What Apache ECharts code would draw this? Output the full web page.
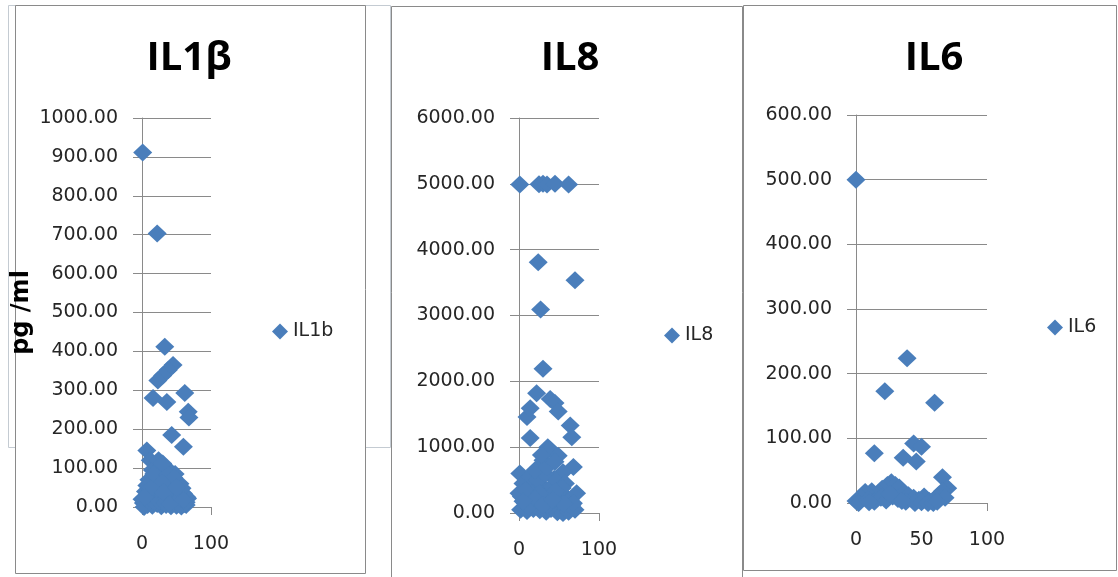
<!DOCTYPE html>
<html><head><meta charset="utf-8">
<script src="https://cdn.jsdelivr.net/npm/echarts@6/dist/echarts.min.js"></script>
<style>html,body{margin:0;padding:0;background:#fff}#c{width:1118px;height:577px}</style>
</head><body><div id="c"></div>
<script>
// ---- data ----
const chartTitles = ['IL1β', 'IL8', 'IL6'];
const seriesNames = ['IL1b', 'IL8', 'IL6'];
const yAxisTitle = 'pg /ml';
const yMaxValues = [1000, 6000, 600];
const yStepValues = [100, 1000, 100];
const xMaxValues = [100, 100, 100];
const xStepValues = [100, 100, 50];

const il1bPoints = [[1,911],[22,703],[33,412],[45,365],[38,352],[30,338],[23,325],[16,280],[36,270],[62,293],[67,245],[68,230],[43,185],[60,155],[7,145],
 [12,120],[20,110],[28,100],[35,95],[42,90],[48,85],[15,95],[25,80],[32,75],[40,70],[50,65],[55,60],[10,70],[18,60],[26,55],[34,50],[44,45],[52,40],[60,35],[65,25],[66,22],
 [5,40],[12,35],[20,30],[30,25],[38,20],[46,15],[54,10],[62,8],[64,5],[2,10],[8,5],[15,3],[22,8],[28,2],[35,5],[42,2],[50,3],[57,1],[64,12],[0,20],[3,0],[10,15],[18,12],
 [25,15],[33,10],[40,30],[48,28],[56,22],[45,55],[36,40],[22,45],[24,120],[30,112],[17,85],[38,82],[46,75],[29,62],[7,55],[58,48],[13,48],[31,38],[50,50],[4,25],[40,8],[60,18]];
const il8Points = [[1,4990],[25,4995],[30,5000],[35,4990],[45,5000],[62,4990],[24,3810],[70,3535],[27,3090],[30,2190],[22,1820],[10,1460],[14,1590],[39,1730],[45,1670],
 [49,1540],[64,1330],[66,1150],[14,1140],[36,1000],[39,960],[49,870],[30,800],[25,700],[68,700],[1,600],[55,620],[5,450],[12,400],[20,380],[28,420],[35,350],[42,400],
 [50,300],[58,250],[64,200],[72,300],[3,250],[8,150],[15,200],[22,120],[30,250],[38,180],[45,100],[52,50],[60,80],[66,120],[2,50],[10,30],[18,60],[26,40],[34,20],
 [40,60],[48,10],[55,0],[62,20],[70,50],[0,300],[14,550],[24,500],[44,520],[32,600],[58,450],[16,300],[40,250],[50,180],
 [20,650],[35,700],[45,780],[28,880],[8,350],[26,300],[54,380],[68,150],[12,100],[36,120],[20,220],[46,330],[5,180],[30,120],[56,140],[42,200]];
const il6Points = [[0,500],[39,224],[22,173],[60,155],[44,92],[50,87],[46,64],[36,70],[14,77],[66,40],[70,23],
 [27,32],[24,28],[30,28],[33,24],[20,22],[17,15],[12,18],[7,17],[4,8],[0,3],[2,0],[9,5],[14,2],[19,8],[23,4],[28,10],[32,6],[36,15],[40,12],[44,8],[48,5],
 [52,10],[56,3],[60,6],[63,12],[66,18],[68,8],[38,2],[45,0],[50,1],[55,0],[59,0],[26,14],[35,3],[10,1],[62,2]];
const allPoints = [il1bPoints, il8Points, il6Points];

// ---- layout / style ----
const gridBoxes = [
  {left:142, top:118, width:69, height:389},
  {left:519, top:118, width:80, height:395},
  {left:856, top:115, width:131, height:388}
];
const titleCenters = [189, 570, 934];
const legendPos = [{left:272, top:322}, {left:664, top:326}, {left:1047, top:318}];
const gray = '#8a8a8a';
const blue = '#4A7EBB';
const labelFont = {fontFamily:'DejaVu Sans', fontSize:19, color:'#262626'};

const option = {
  animation:false,
  backgroundColor:'#fff',
  graphic:[
    {type:'rect', z:-10, shape:{x:8.5, y:5.5, width:382, height:442}, style:{fill:'#fff', stroke:'#c4cbd2', lineWidth:1}},
    {type:'rect', z:-9, shape:{x:15.5, y:5.5, width:350, height:568}, style:{fill:'#fff', stroke:gray, lineWidth:1}},
    {type:'rect', z:-9, shape:{x:391.5, y:6.5, width:351, height:590}, style:{fill:'#fff', stroke:gray, lineWidth:1}},
    {type:'rect', z:-9, shape:{x:743.5, y:5.5, width:373, height:565}, style:{fill:'#fff', stroke:gray, lineWidth:1}}
  ],
  title: chartTitles.map((t,i)=>({text:t, left:titleCenters[i], top:39, textAlign:'center', padding:0,
    textStyle:{fontFamily:'Open Sans', fontWeight:'bold', fontSize:40, color:'#000'}})),
  legend: seriesNames.map((n,i)=>({data:[n], left:legendPos[i].left, top:legendPos[i].top, icon:'diamond',
    itemWidth:16, itemHeight:16, padding:0, selectedMode:false, textStyle:labelFont})),
  grid: gridBoxes.map(g=>Object.assign({containLabel:false}, g)),
  xAxis: gridBoxes.map((g,i)=>({type:'value', gridIndex:i, min:0, max:xMaxValues[i], interval:xStepValues[i],
    axisLine:{show:true, onZero:false, lineStyle:{color:gray, width:1}},
    axisTick:{show:true, length:8, lineStyle:{color:gray}},
    splitLine:{show:false},
    axisLabel:Object.assign({margin:28, showMinLabel:true, showMaxLabel:true}, labelFont)})),
  yAxis: gridBoxes.map((g,i)=>({type:'value', gridIndex:i, min:0, max:yMaxValues[i], interval:yStepValues[i],
    name: i===0 ? yAxisTitle : '', nameLocation:'middle', nameRotate:90, nameGap:108,
    nameTextStyle:{fontFamily:'DejaVu Sans', fontWeight:'bold', fontSize:24, color:'#000'},
    axisLine:{show:true, onZero:false, lineStyle:{color:gray, width:1}},
    axisTick:{show:true, length:9, lineStyle:{color:gray}},
    splitLine:{show:true, lineStyle:{color:gray, width:1}},
    axisLabel:Object.assign({margin:24, showMinLabel:true, showMaxLabel:true, formatter:v=>v.toFixed(2)}, labelFont)})),
  series: allPoints.map((pts,i)=>({type:'scatter', name:seriesNames[i], xAxisIndex:i, yAxisIndex:i,
    data:pts, symbol:'diamond', symbolSize:[19,18], itemStyle:{color:blue, opacity:1}}))
};
const chart = echarts.init(document.getElementById('c'), null, {renderer:'canvas'});
chart.setOption(option);
</script></body></html>
